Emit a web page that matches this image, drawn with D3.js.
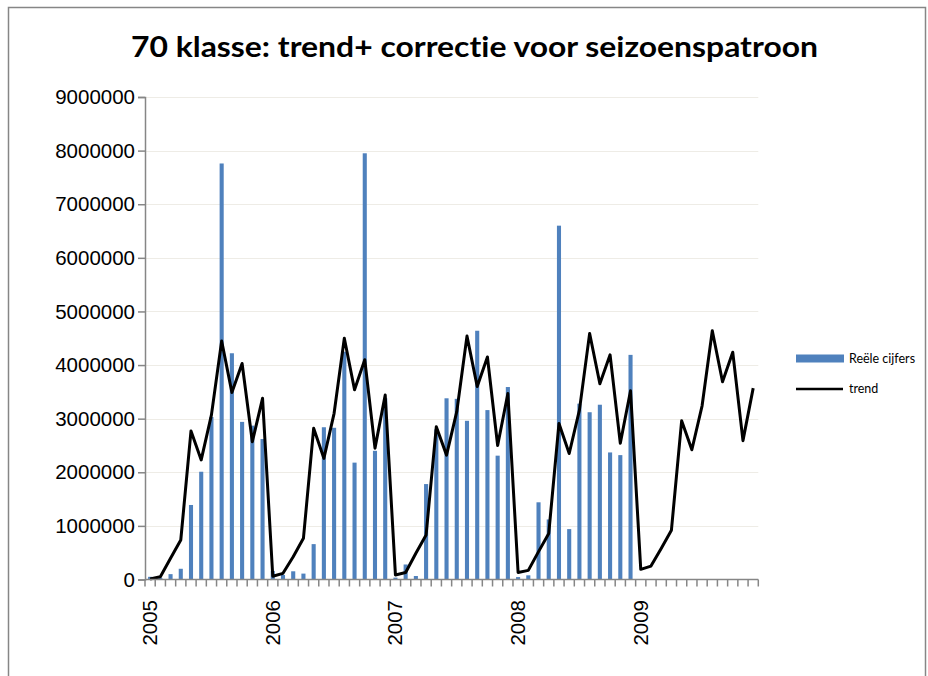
<!DOCTYPE html>
<html>
<head>
<meta charset="utf-8">
<script src="https://cdn.jsdelivr.net/npm/d3@7"></script>
<style>
  html, body { margin: 0; padding: 0; background: #fff; }
  svg { display: block; }
  text { font-variant-ligatures: none; }
</style>
</head>
<body>
<svg id="chart" width="928" height="676"></svg>
<script>
// Years shown on the category axis (one category per month)
const years = [2005, 2006, 2007, 2008, 2009];
const monthsPerYear = 12;

// Observed monthly figures (2005–2008)
const reeleCijfers = [
  50000, 30000, 100000, 200000, 1390000, 2010000, 3030000, 7760000, 4220000, 2940000, 2870000, 2620000,
  160000, 85000, 153000, 110000, 660000, 2840000, 2830000, 4250000, 2180000, 7950000, 2400000, 3380000,
  35000, 280000, 65000, 1780000, 2800000, 3380000, 3370000, 2960000, 4640000, 3160000, 2310000, 3590000,
  45000, 78000, 1440000, 1120000, 6600000, 940000, 3280000, 3120000, 3260000, 2370000, 2320000, 4190000
];

// Trend corrected for the seasonal pattern (2005–2009)
const trend = [
  10000, 50000, 395000, 737000, 2770000, 2230000, 3070000, 4450000, 3490000, 4030000, 2570000, 3380000,
  60000, 115000, 425000, 768000, 2820000, 2260000, 3100000, 4500000, 3540000, 4100000, 2450000, 3440000,
  85000, 130000, 490000, 830000, 2850000, 2320000, 3130000, 4540000, 3600000, 4150000, 2500000, 3470000,
  130000, 170000, 520000, 860000, 2910000, 2350000, 3160000, 4590000, 3650000, 4190000, 2540000, 3520000,
  190000, 250000, 580000, 920000, 2960000, 2420000, 3240000, 4640000, 3690000, 4240000, 2590000, 3570000
];

// Value axis ticks
const yTicks = [0, 1000000, 2000000, 3000000, 4000000, 5000000, 6000000, 7000000, 8000000, 9000000];

const title = "70 klasse: trend+ correctie voor seizoenspatroon";
const seriesNames = ["Reële cijfers", "trend"];

// Category keys, e.g. "2005-01"
const categories = [];
years.forEach(y => {
  for (let m = 1; m <= monthsPerYear; m++) categories.push(y + "-" + String(m).padStart(2, "0"));
});

const svg = d3.select("#chart");
const axisGrey = "#868686";
const barBlue = "#4f81bd";

// Outer chart frame
svg.append("rect")
  .attr("x", 8.5).attr("y", 7.5)
  .attr("width", 917).attr("height", 700)
  .attr("fill", "#fff")
  .attr("stroke", axisGrey)
  .attr("stroke-width", 1.5);

const plot = { left: 145, right: 758.3, top: 97, bottom: 579.5 };

const x = d3.scaleBand()
  .domain(categories)
  .range([plot.left, plot.right])
  .paddingInner(0).paddingOuter(0);

const y = d3.scaleLinear()
  .domain([0, 9000000])
  .range([plot.bottom, plot.top]);

// Title
svg.append("text")
  .attr("x", (131 + 818) / 2)
  .attr("y", 57)
  .attr("text-anchor", "middle")
  .attr("font-family", "Lato, 'Open Sans', sans-serif")
  .attr("font-weight", "bold")
  .attr("font-size", 29)
  .attr("textLength", 687)
  .attr("lengthAdjust", "spacingAndGlyphs")
  .attr("fill", "#000")
  .text(title);

// Horizontal gridlines
svg.append("g")
  .selectAll("line")
  .data(yTicks.filter(d => d > 0))
  .join("line")
  .attr("x1", plot.left).attr("x2", plot.right)
  .attr("y1", d => Math.round(y(d)) + 0.5)
  .attr("y2", d => Math.round(y(d)) + 0.5)
  .attr("stroke", "#eeece6")
  .attr("stroke-width", 1);

// Bars
const barW = x.bandwidth() / 2.5;
svg.append("g")
  .selectAll("rect")
  .data(reeleCijfers)
  .join("rect")
  .attr("x", (d, i) => x(categories[i]) + (x.bandwidth() - barW) / 2)
  .attr("y", d => y(d))
  .attr("width", barW)
  .attr("height", d => y(0) - y(d))
  .attr("fill", barBlue);

// Trend line
const line = d3.line()
  .x((d, i) => x(categories[i]) + x.bandwidth() / 2)
  .y(d => y(d));

svg.append("path")
  .datum(trend)
  .attr("d", line)
  .attr("fill", "none")
  .attr("stroke", "#000")
  .attr("stroke-width", 3)
  .attr("stroke-linejoin", "round");

// Y axis
const yAxis = d3.axisLeft(y)
  .tickValues(yTicks)
  .tickFormat(d3.format("d"))
  .tickSize(7)
  .tickPadding(3);

const gy = svg.append("g")
  .attr("transform", `translate(${plot.left},0)`)
  .call(yAxis);
gy.select(".domain").attr("stroke", axisGrey).attr("stroke-width", 1.5);
gy.selectAll(".tick line").attr("stroke", axisGrey).attr("stroke-width", 1.5);
gy.selectAll(".tick text")
  .attr("font-family", "'Liberation Sans', Arial, sans-serif")
  .attr("font-size", 20.5)
  .attr("fill", "#000");

// X axis: tick marks at every month boundary
const boundaries = categories.map(c => x(c)).concat([plot.right]);
svg.append("g")
  .selectAll("line")
  .data(boundaries)
  .join("line")
  .attr("x1", d => d).attr("x2", d => d)
  .attr("y1", plot.bottom).attr("y2", plot.bottom + 7)
  .attr("stroke", axisGrey)
  .attr("stroke-width", 1.5);

svg.append("line")
  .attr("x1", plot.left).attr("x2", plot.right)
  .attr("y1", plot.bottom).attr("y2", plot.bottom)
  .attr("stroke", axisGrey)
  .attr("stroke-width", 1.5);

// Year labels at each January, rotated
svg.append("g")
  .selectAll("text")
  .data(years)
  .join("text")
  .attr("transform", d => {
    const cx = x(d + "-01") + x.bandwidth() / 2;
    return `translate(${cx + 7},600) rotate(-90)`;
  })
  .attr("text-anchor", "end")
  .attr("font-family", "'Liberation Sans', Arial, sans-serif")
  .attr("font-size", 20.5)
  .attr("fill", "#000")
  .text(d => d);

// Legend
const legend = svg.append("g").attr("transform", "translate(796,0)");
legend.append("rect")
  .attr("x", 0).attr("y", 354.5)
  .attr("width", 48).attr("height", 8)
  .attr("fill", barBlue);
legend.append("text")
  .attr("x", 53).attr("y", 362.5)
  .attr("font-family", "Lato, 'Open Sans', sans-serif")
  .attr("font-size", 12.5)
  .attr("fill", "#000")
  .text(seriesNames[0]);
legend.append("line")
  .attr("x1", 0).attr("x2", 47)
  .attr("y1", 389).attr("y2", 389)
  .attr("stroke", "#000")
  .attr("stroke-width", 2.5);
legend.append("text")
  .attr("x", 53).attr("y", 393)
  .attr("font-family", "Lato, 'Open Sans', sans-serif")
  .attr("font-size", 12.5)
  .attr("fill", "#000")
  .text(seriesNames[1]);
</script>
</body>
</html>
